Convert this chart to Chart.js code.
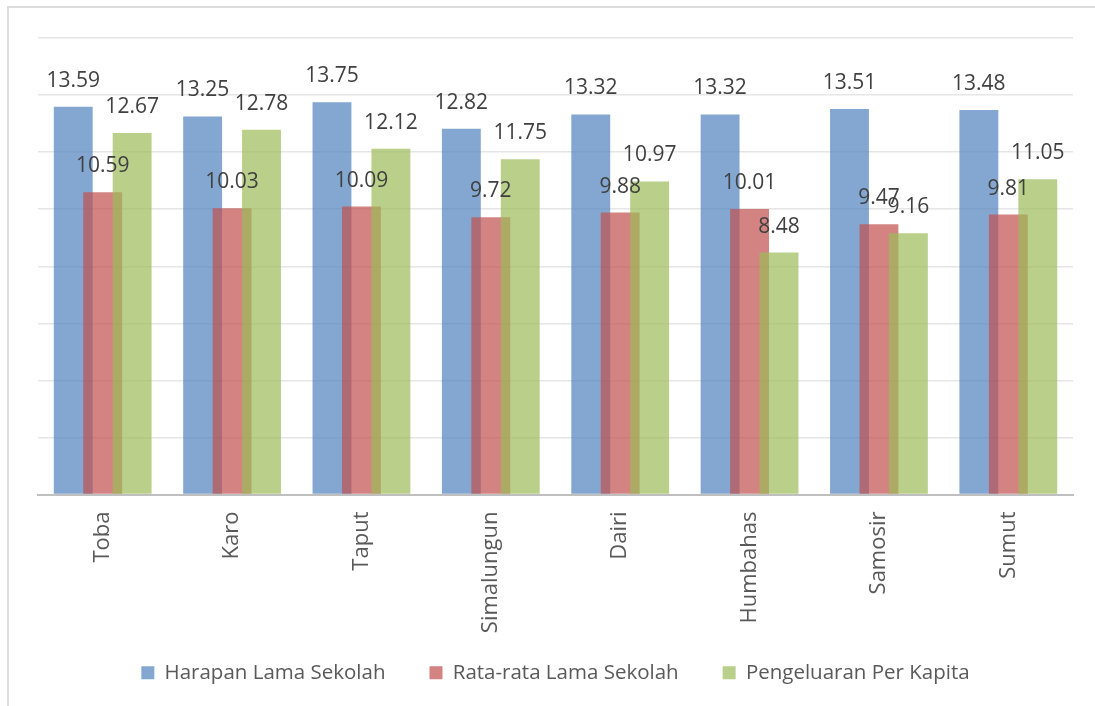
<!DOCTYPE html>
<html>
<head>
<meta charset="utf-8">
<script src="https://cdn.jsdelivr.net/npm/chart.js@4.4.0/dist/chart.umd.min.js"></script>
<style>
    html, body { margin: 0; padding: 0; background: #fff; }
    #wrap { position: relative; width: 1095px; height: 706px; overflow: hidden; }
    #frame { position: absolute; left: 7px; top: 6px; width: 1200px; height: 800px; border: 2px solid #dcdcdc; pointer-events: none; }
</style>
</head>
<body>
<div id="wrap">
    <canvas id="chart" width="1095" height="706"></canvas>
    <div id="frame"></div>
</div>
<script>
// Kabupaten / kota
const regions = ['Toba', 'Karo', 'Taput', 'Simalungun', 'Dairi', 'Humbahas', 'Samosir', 'Sumut'];
const harapanLama = [13.59, 13.25, 13.75, 12.82, 13.32, 13.32, 13.51, 13.48];
const rataRataLama = [10.59, 10.03, 10.09, 9.72, 9.88, 10.01, 9.47, 9.81];
const pengeluaran = [12.67, 12.78, 12.12, 11.75, 10.97, 8.48, 9.16, 11.05];
const yMin = 0, yMax = 16, yStep = 2;

const FONT = '"Open Sans", "DejaVu Sans", sans-serif';

// gambar batang dari seri pertama ke terakhir (seri berikutnya menimpa)
const forwardDraw = {
    id: 'forwardDraw',
    beforeDatasetsDraw(chart) {
        for (let i = 0; i < chart.data.datasets.length; i++) {
            chart.getDatasetMeta(i).controller.draw();
        }
        return false;
    }
};

// label angka di atas batang
const valueLabels = {
    id: 'valueLabels',
    afterDraw(chart) {
        const ctx = chart.ctx;
        ctx.save();
        ctx.font = '21px ' + FONT;
        ctx.fillStyle = '#404040';
        ctx.textAlign = 'center';
        ctx.textBaseline = 'middle';
        chart.data.datasets.forEach((ds, i) => {
            const meta = chart.getDatasetMeta(i);
            meta.data.forEach((bar, j) => {
                ctx.fillText(ds.data[j].toFixed(2), bar.x, bar.y - 26);
            });
        });
        ctx.restore();
    }
};

new Chart(document.getElementById('chart'), {
    type: 'bar',
    data: {
        labels: regions,
        datasets: [{
            label: 'Harapan Lama Sekolah',
            data: harapanLama,
            backgroundColor: 'rgba(79, 129, 189, 0.7)'
        }, {
            label: 'Rata-rata Lama Sekolah',
            data: rataRataLama,
            backgroundColor: 'rgba(192, 80, 77, 0.7)'
        }, {
            label: 'Pengeluaran Per Kapita',
            data: pengeluaran,
            backgroundColor: 'rgba(155, 187, 89, 0.7)'
        }]
    },
    options: {
        responsive: false,
        animation: false,
        categoryPercentage: 0.683,
        barPercentage: 1.32,
        layout: {
            padding: { left: 38, right: 22, top: 38, bottom: 13 }
        },
        plugins: {
            legend: {
                position: 'bottom',
                labels: {
                    font: { family: FONT, size: 20.5 },
                    color: '#595959',
                    boxWidth: 13,
                    boxHeight: 13,
                    padding: 44
                }
            },
            tooltip: { enabled: false }
        },
        scales: {
            x: {
                grid: { display: false, drawTicks: false },
                border: { color: '#bfbfbf', width: 2 },
                ticks: {
                    font: { family: FONT, size: 22 },
                    color: '#595959',
                    maxRotation: 90,
                    minRotation: 90,
                    padding: 17
                },
                afterFit(scale) {
                    scale.height = 124;
                    // label panjang (Simalungun) boleh keluar dari kotak sumbu
                    scale._computeLabelArea = () => undefined;
                }
            },
            y: {
                min: yMin,
                max: yMax,
                grid: { color: '#e6e6e6', lineWidth: 1.5, drawTicks: false },
                border: { display: false },
                ticks: { display: false, stepSize: yStep }
            }
        }
    },
    plugins: [forwardDraw, valueLabels]
});
</script>
</body>
</html>
